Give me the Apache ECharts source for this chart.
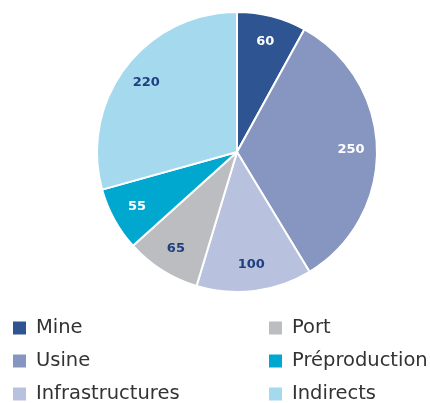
<!DOCTYPE html>
<html>
<head>
<meta charset="utf-8">
<script src="https://cdn.jsdelivr.net/npm/echarts@6/dist/echarts.min.js"></script>
<style>
	html, body { margin: 0; padding: 0; background: #fff; }
	#container { width: 430px; height: 403px; }
</style>
</head>
<body>
<div id="container"></div>
<script>
var categories = [ 'Mine', 'Usine', 'Infrastructures', 'Port', 'Préproduction', 'Indirects' ];
var values = [ 60, 250, 100, 65, 55, 220 ];

var colors = [ '#2e5591', '#8796c0', '#b8c1de', '#bcbdc0', '#00a8d0', '#a5d9ee' ];
var labelColors = [ '#ffffff', '#ffffff', '#1f3f7f', '#1f3f7f', '#ffffff', '#1f3f7f' ];

var dom = document.getElementById("container");
var myChart = echarts.init(dom);

var pieData = categories.map(function(name, i) {
	return { name : name, value : values[i] };
});
var labelData = categories.map(function(name, i) {
	return {
		name : name,
		value : values[i],
		label : { color : labelColors[i] }
	};
});

var legendCommon = {
	orient : 'vertical',
	padding : 0,
	top : 318,
	height : 100,
	itemWidth : 15,
	itemHeight : 15,
	itemGap : 13,
	icon : 'rect',
	selectedMode : false,
	textStyle : {
		fontFamily : 'DejaVu Sans',
		fontSize : 19.5,
		lineHeight : 20,
		color : '#333333',
		padding : [ 0, 0, 0, 4 ]
	}
};

var option = {
	color : colors,
	animation : false,
	legend : [
		Object.assign({}, legendCommon, { left : 11, data : categories.slice(0, 3) }),
		Object.assign({}, legendCommon, { left : 267, data : categories.slice(3, 6) })
	],
	series : [ {
		name : 'cost',
		type : 'pie',
		center : [ 237, 152 ],
		radius : 140,
		startAngle : 90,
		clockwise : true,
		label : { show : false },
		labelLine : { show : false },
		itemStyle : { borderColor : '#ffffff', borderWidth : 2 },
		emphasis : { disabled : true },
		data : pieData
	}, {
		// transparent ring, only used to place the value labels
		name : 'labels',
		type : 'pie',
		center : [ 237, 152 ],
		radius : [ 82, 140 ],
		startAngle : 90,
		clockwise : true,
		silent : true,
		legendHoverLink : false,
		itemStyle : { color : 'rgba(0,0,0,0)' },
		label : {
			show : true,
			position : 'inside',
			formatter : '{c}',
			fontFamily : 'DejaVu Sans',
			fontWeight : 'bold',
			fontSize : 13
		},
		labelLine : { show : false },
		emphasis : { disabled : true },
		data : labelData
	} ]
};

if (option && typeof option === "object") {
	myChart.setOption(option, true);
}
</script>
</body>
</html>
